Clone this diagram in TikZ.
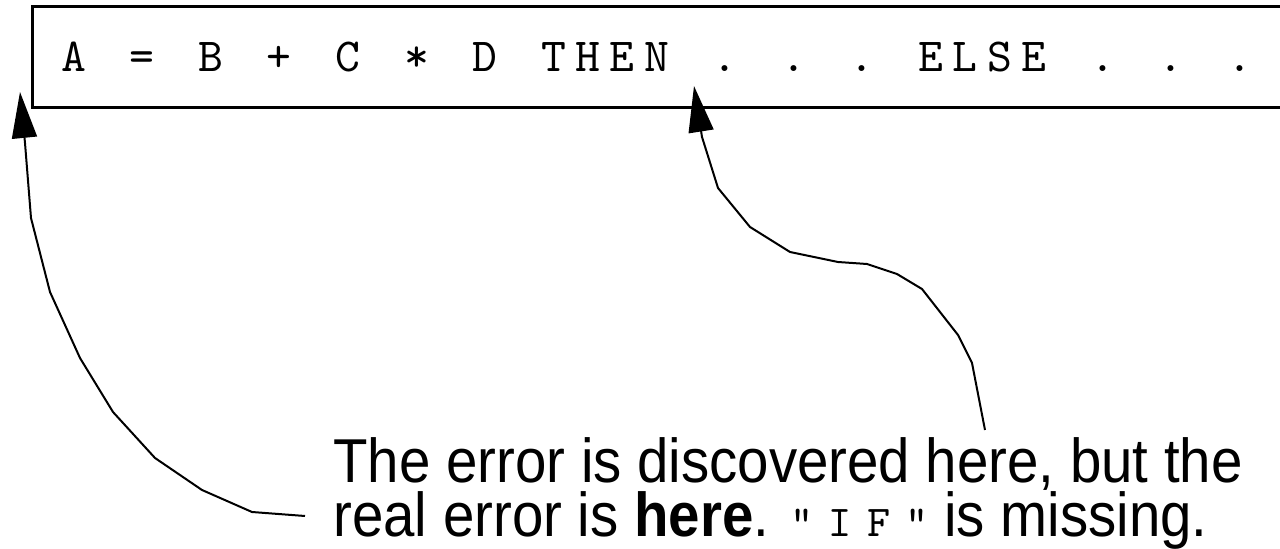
\documentclass[tikz,border=0pt]{standalone}
\usepackage{fontspec}
\usetikzlibrary{arrows.meta}
\newfontfamily\notefont[FakeStretch=0.91]{Liberation Sans}
\newfontfamily\codefont{lmmono10-regular.otf}
\newfontfamily\notecode[LetterSpace=35]{lmmono10-regular.otf}
% one fixed cell for every character of the code line
\ExplSyntaxOn
\NewDocumentCommand\monocells{m}{\str_map_inline:nn {#1}{\makebox[17.15pt][c]{##1}}}
\ExplSyntaxOff
\begin{document}
\begin{tikzpicture}[x=0.5pt,y=-0.5pt,
    pointer/.style={line width=1pt,-{Triangle[length=23pt,width=12.5pt]}},
    note/.style={anchor=base west,inner sep=0pt,align=left,font=\notefont\fontsize{31}{27}\selectfont}]
    \useasboundingbox (0,0) rectangle (1280,549);
    \clip (0,0) rectangle (1280,549);
    % Code box
    \draw[line width=1.5pt] (32,7) rectangle (1330,108);
    \node[anchor=base west,inner sep=0pt,font=\codefont\fontsize{23.7}{23.7}\selectfont] (codeline) at (56,72) {\monocells{A = B + C * D THEN . . . ELSE . . .}};
    % Writing space
    \node[note] (errtxt) at (333,537) {The error is discovered here, but the\\real error is \textbf{here}. {\notecode\fontsize{22}{22}\selectfont"IF"} is missing.};
    % Coordinate
    \coordinate (realfrom) at (305,516);
    \coordinate (missingIF) at (20,92);
    \coordinate (foundfrom) at (985,430);
    \coordinate (foundTHEN) at (694,86);
    % Linee
    \draw[pointer] (realfrom) -- (252,512) -- (202,490) -- (155,458) -- (113,412) -- (80,358) -- (50,292) -- (31,218) -- (25,143) -- (missingIF);
    \draw[pointer] (foundfrom) -- (972,363) -- (958,335) -- (940,312) -- (922,289) -- (897,274) -- (867,264) -- (838,262) -- (790,252) -- (750,227) -- (718,188) -- (702,137) -- (foundTHEN);
\end{tikzpicture}
\end{document}
